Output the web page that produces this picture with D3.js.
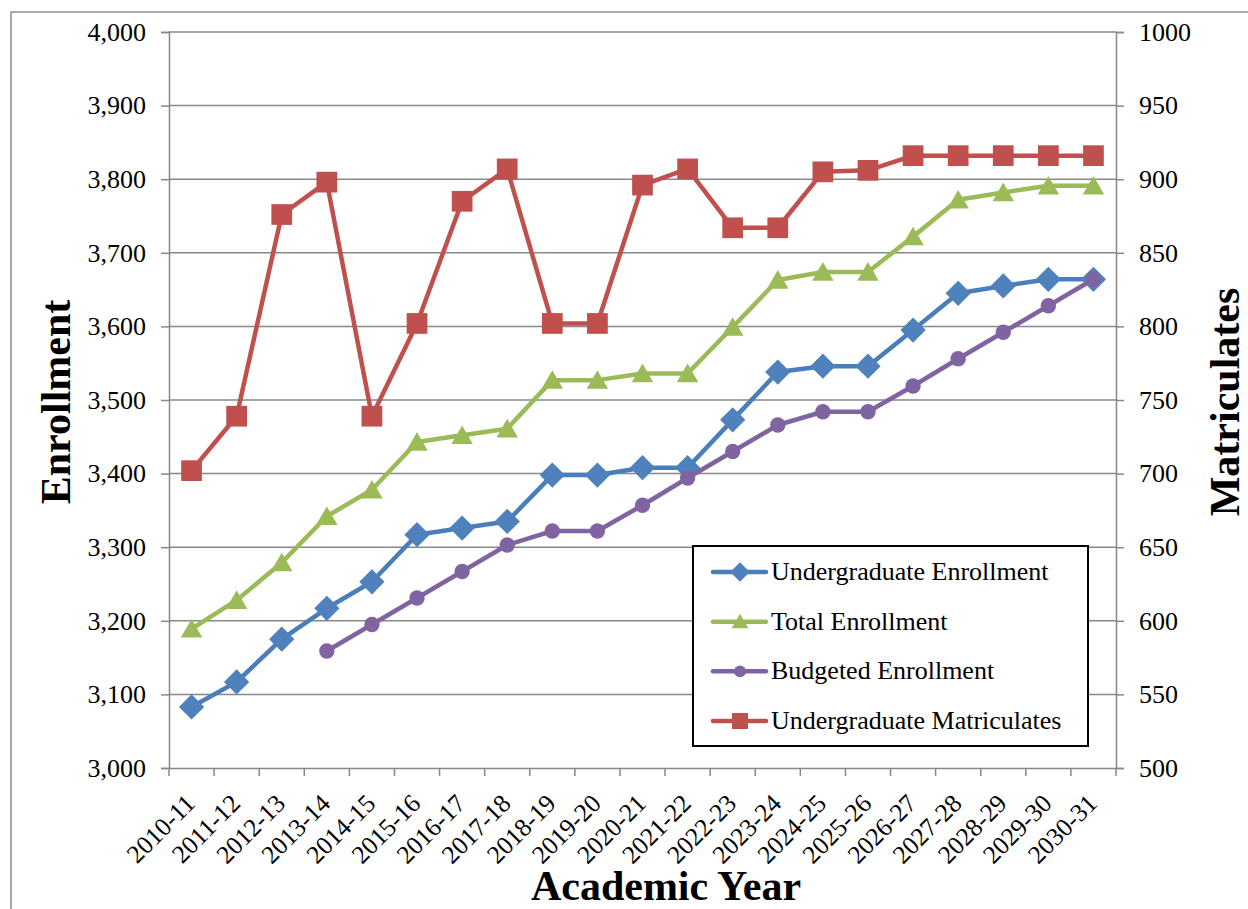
<!DOCTYPE html>
<html>
<head>
<meta charset="utf-8">
<script src="https://cdn.jsdelivr.net/npm/d3@7"></script>
<style>
  html, body { margin: 0; padding: 0; background: #fff; }
  svg { display: block; }
  svg text { font-family: 'Liberation Serif', 'Times New Roman', serif !important; fill: #000; }
</style>
</head>
<body>
<svg id="chart" width="1248" height="909"></svg>
<script>
const categories = ["2010-11","2011-12","2012-13","2013-14","2014-15","2015-16","2016-17","2017-18","2018-19","2019-20","2020-21","2021-22","2022-23","2023-24","2024-25","2025-26","2026-27","2027-28","2028-29","2029-30","2030-31"];
const undergradEnrollment = [3083,3117,3175,3217,3253,3317,3326,3335,3398,3398,3408,3408,3473,3538,3546,3546,3595,3645,3655,3664,3664];
const totalEnrollment = [3189,3228,3279,3342,3378,3443,3452,3461,3527,3527,3536,3536,3599,3663,3674,3674,3722,3772,3782,3791,3791];
const budgetedEnrollment = [null,null,null,3159,3195,3231,3267,3303,3322,3322,3357,3394,3430,3466,3484,3484,3519,3556,3592,3628,3664];
const undergradMatriculates = [702,739,876,898,739,802,885,907,802,802,896,907,867,867,905,906,916,916,916,916,916];
const leftTicks = [3000,3100,3200,3300,3400,3500,3600,3700,3800,3900,4000];
const rightTicks = [500,550,600,650,700,750,800,850,900,950,1000];
const seriesNames = ["Undergraduate Enrollment","Total Enrollment","Budgeted Enrollment","Undergraduate Matriculates"];

const FONT = "'Liberation Serif', 'Times New Roman', serif";
const svg = d3.select("#chart");
const m = {left: 169, right: 1116, top: 32, bottom: 768};

// outer frame
svg.append("rect").attr("x", 11).attr("y", 12).attr("width", 1300).attr("height", 1000)
  .attr("fill", "none").attr("stroke", "#8c8c8c").attr("stroke-width", 1.5);

const x = d3.scaleBand().domain(categories).range([m.left, m.right]);
const yL = d3.scaleLinear().domain([3000, 4000]).range([m.bottom, m.top]);
const yR = d3.scaleLinear().domain([500, 1000]).range([m.bottom, m.top]);

const gridColor = "#878787";
svg.append("g").selectAll("line").data(leftTicks.slice(1)).join("line")
  .attr("x1", m.left).attr("x2", m.right)
  .attr("y1", d => yL(d)).attr("y2", d => yL(d))
  .attr("stroke", gridColor).attr("stroke-width", 1.5);

function styleAxis(g, size) {
  g.attr("font-family", FONT).attr("font-size", size);
  g.select(".domain").attr("stroke", gridColor).attr("stroke-width", 1.5);
  g.selectAll(".tick line").attr("stroke", gridColor).attr("stroke-width", 1.5);
  g.selectAll(".tick text").attr("fill", "#000").style("font-family", FONT).style("font-size", size + "px");
}

const axL = svg.append("g").attr("transform", `translate(${m.left},0)`)
  .call(d3.axisLeft(yL).tickValues(leftTicks).tickFormat(d3.format(",")).tickSize(8).tickPadding(15));
styleAxis(axL, 26);

const axR = svg.append("g").attr("transform", `translate(${m.right},0)`)
  .call(d3.axisRight(yR).tickValues(rightTicks).tickFormat(d3.format("d")).tickSize(8).tickPadding(15));
styleAxis(axR, 26);

const axB = svg.append("g").attr("transform", `translate(0,${m.bottom})`)
  .call(d3.axisBottom(x).tickSize(0).tickPadding(0));
styleAxis(axB, 25.5);
const bounds = categories.map(c => x(c)).concat([x(categories[categories.length-1]) + x.bandwidth()]);
axB.append("g").selectAll("line").data(bounds).join("line")
  .attr("x1", d => d).attr("x2", d => d).attr("y1", 0).attr("y2", 8)
  .attr("stroke", gridColor).attr("stroke-width", 1.5);
axB.selectAll(".tick text")
  .attr("text-anchor", "end").attr("dy", "0").attr("y", 0)
  .attr("transform", "translate(5,37) rotate(-45)");

// axis titles
function title(sel) { return sel.style("font-family", FONT).style("font-size", "42px").style("font-weight", "bold"); }
title(svg.append("text").attr("transform", "translate(70,402) rotate(-90)").attr("text-anchor", "middle")).text("Enrollment");
title(svg.append("text").attr("transform", "translate(1239,402) rotate(-90)").attr("text-anchor", "middle")).text("Matriculates");
title(svg.append("text").attr("x", 666).attr("y", 900).attr("text-anchor", "middle")).text("Academic Year");

const cx = c => x(c) + x.bandwidth() / 2;

const series = [
  {name: seriesNames[0], values: undergradEnrollment, y: yL, line: "#4A7EBB", fill: "#4F81BD", sym: d3.symbolSquare, size: 320, rot: 45, dy: 0},
  {name: seriesNames[1], values: totalEnrollment, y: yL, line: "#9BBB59", fill: "#9BBB59", sym: d3.symbolTriangle, size: 200, rot: 0, dy: 2.5},
  {name: seriesNames[2], values: budgetedEnrollment, y: yL, line: "#8064A2", fill: "#8064A2", sym: d3.symbolCircle, size: 185, rot: 0, dy: 0},
  {name: seriesNames[3], values: undergradMatriculates, y: yR, line: "#C0504D", fill: "#C0504D", sym: d3.symbolSquare, size: 430, rot: 0, dy: 0}
];

[1, 0, 2, 3].forEach(i => {
  const s = series[i];
  const pts = categories.map((c, k) => ({c, v: s.values[k]})).filter(p => p.v != null);
  const line = d3.line().x(p => cx(p.c)).y(p => s.y(p.v));
  svg.append("path").datum(pts).attr("d", line)
    .attr("fill", "none").attr("stroke", s.line).attr("stroke-width", 4.5).attr("stroke-linejoin", "round");
  svg.append("g").selectAll("path").data(pts).join("path")
    .attr("transform", p => `translate(${cx(p.c)},${s.y(p.v) + s.dy}) rotate(${s.rot})`)
    .attr("d", d3.symbol().type(s.sym).size(s.size))
    .attr("fill", s.fill);
});

// legend
const lg = svg.append("g");
lg.append("rect").attr("x", 693).attr("y", 546).attr("width", 395).attr("height", 200)
  .attr("fill", "#fff").attr("stroke", "#000").attr("stroke-width", 2);
const legY = d3.scalePoint().domain(seriesNames).range([572, 721]);
series.forEach(s => {
  const yy = legY(s.name);
  lg.append("line").attr("x1", 713).attr("x2", 766).attr("y1", yy).attr("y2", yy)
    .attr("stroke", s.line).attr("stroke-width", 4.5).attr("stroke-linecap", "round");
  lg.append("path").attr("transform", `translate(740,${yy + s.dy * 0.7}) rotate(${s.rot})`)
    .attr("d", d3.symbol().type(s.sym).size(s.size * 0.6)).attr("fill", s.fill);
  lg.append("text").attr("x", 771).attr("y", yy + 8)
    .style("font-family", FONT).style("font-size", "26px").text(s.name);
});
</script>
</body>
</html>
